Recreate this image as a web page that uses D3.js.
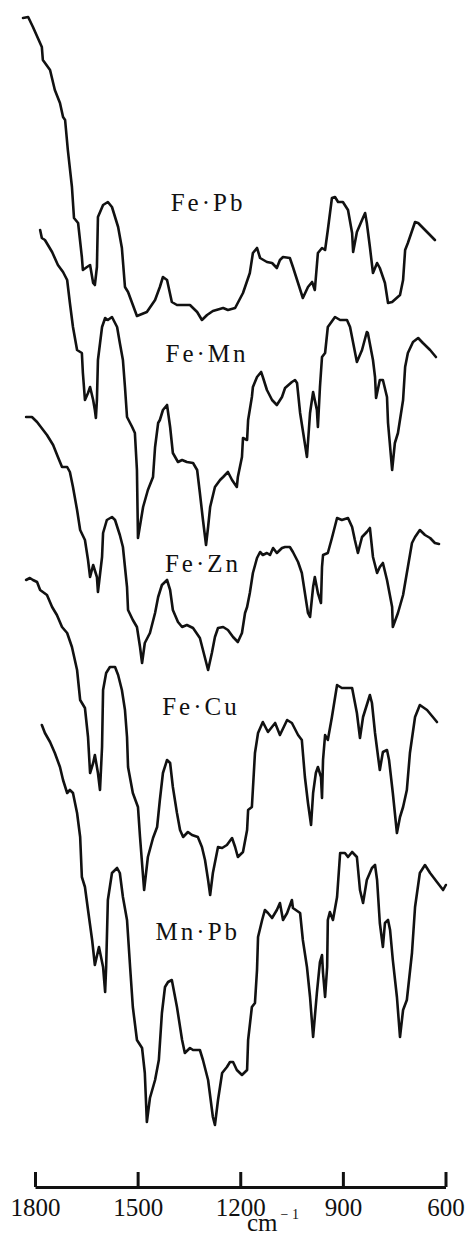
<!DOCTYPE html>
<html>
<head>
<meta charset="utf-8">
<script src="https://cdn.jsdelivr.net/npm/d3@7"></script>
<style>
  body { margin: 0; background: #fff; }
  svg { display: block; }
  text { font-family: "Liberation Serif", "DejaVu Serif", serif; fill: #111; }
</style>
</head>
<body>
<svg id="chart"></svg>
<script>
// wavenumber (cm-1), relative transmittance (arbitrary, stacked)
let fePb = [
  [1835,113.2],[1820,113.3],[1806,112.3],[1780,110.3],[1777,109.0],[1756,108.0],[1742,106.0],
  [1727,104.7],[1718,103.3],[1712,103.0],[1704,100.0],[1692,96.3],[1686,93.2],[1674,92.7],
  [1663,89.3],[1660,88.0],[1648,88.3],[1639,88.5],[1630,86.7],[1625,86.5],[1619,88.3],
  [1616,93.3],[1601,94.5],[1587,94.8],[1575,94.3],[1557,92.3],[1546,90.2],[1537,86.3],
  [1528,85.8],[1502,83.4],[1473,83.8],[1449,85.0],[1435,86.3],[1426,87.3],[1414,87.0],
  [1400,84.8],[1385,84.5],[1347,84.5],[1326,83.8],[1312,83.0],[1297,83.5],[1280,83.9],
  [1250,84.2],[1236,84.0],[1215,84.2],[1192,85.7],[1172,87.7],[1163,89.7],[1151,90.2],
  [1142,89.2],[1122,88.8],[1107,88.7],[1093,88.2],[1084,89.0],[1075,89.3],[1055,89.2],
  [1046,88.3],[1031,86.7],[1017,85.2],[1002,86.3],[990,86.8],[982,86.0],[973,89.7],
  [961,90.2],[952,90.0],[944,92.0],[932,95.2],[923,95.3],[914,94.8],[900,94.8],[885,94.0],
  [873,91.7],[870,89.8],[859,91.8],[844,93.0],[835,93.7],[830,92.7],[821,90.3],[812,87.7],
  [800,88.7],[792,88.2],[777,86.7],[768,84.7],[756,84.8],[733,85.5],[724,87.0],[718,90.0],
  [710,90.7],[689,92.8],[680,92.7],[654,91.8],[631,91.0]
];

let feMn = [
  [1785,92.0],[1780,91.2],[1771,91.0],[1750,89.8],[1733,88.5],[1718,87.8],[1706,87.0],
  [1698,84.7],[1689,82.3],[1677,80.0],[1663,79.7],[1660,77.7],[1654,75.0],[1645,75.7],
  [1639,76.3],[1630,75.0],[1625,74.0],[1622,73.2],[1619,75.0],[1616,79.0],[1604,82.3],
  [1595,83.2],[1587,83.0],[1575,83.3],[1560,82.3],[1552,80.7],[1543,79.0],[1537,76.3],
  [1531,73.3],[1516,72.3],[1508,71.7],[1502,68.0],[1499,61.2],[1484,64.3],[1470,66.0],
  [1455,67.3],[1449,70.3],[1440,72.7],[1435,73.0],[1426,74.0],[1414,74.5],[1405,72.3],
  [1397,69.7],[1382,68.8],[1370,69.0],[1356,68.8],[1338,68.7],[1326,68.0],[1318,65.7],
  [1309,63.0],[1300,60.5],[1294,62.3],[1288,64.3],[1274,66.3],[1259,67.0],[1250,67.3],
  [1236,67.8],[1224,67.0],[1210,66.3],[1207,67.3],[1195,69.3],[1192,71.2],[1180,71.0],
  [1177,73.0],[1166,75.3],[1163,76.3],[1151,77.3],[1139,77.8],[1134,77.3],[1122,76.0],
  [1107,75.0],[1093,74.5],[1078,75.3],[1069,76.2],[1049,76.8],[1040,77.0],[1034,76.7],
  [1025,73.7],[1005,69.3],[996,73.7],[987,75.8],[976,74.0],[973,72.3],[967,76.3],
  [961,79.3],[952,79.7],[944,82.3],[923,83.3],[908,83.0],[888,83.0],[879,82.3],[859,78.8],
  [844,80.0],[830,81.8],[827,81.7],[812,79.0],[806,77.3],[803,75.2],[792,77.0],[783,77.0],
  [771,75.3],[768,72.7],[756,68.0],[748,70.7],[739,71.7],[724,75.0],[718,78.3],[710,79.7],
  [695,80.8],[680,81.2],[666,80.7],[645,80.0],[628,79.3]
];

let feZn = [
  [1826,73.3],[1809,73.3],[1794,72.8],[1765,71.5],[1747,70.5],[1733,69.3],[1721,68.3],
  [1706,68.3],[1698,67.8],[1689,66.3],[1677,64.0],[1668,62.0],[1654,61.0],[1645,59.0],
  [1639,57.3],[1630,58.5],[1619,57.3],[1616,55.8],[1604,59.3],[1601,61.7],[1590,63.0],
  [1575,63.3],[1566,63.0],[1552,61.5],[1543,60.3],[1531,56.3],[1528,54.0],[1514,53.0],
  [1502,52.3],[1493,50.3],[1487,48.7],[1479,50.7],[1464,51.7],[1449,53.7],[1440,55.3],
  [1429,56.5],[1414,57.0],[1405,56.0],[1397,54.0],[1382,52.8],[1370,52.3],[1356,52.5],
  [1338,52.2],[1318,51.2],[1309,50.0],[1294,48.0],[1283,49.7],[1274,51.3],[1265,52.2],
  [1250,52.3],[1236,52.0],[1221,51.3],[1207,50.8],[1195,51.7],[1186,53.7],[1180,54.3],
  [1172,55.7],[1163,57.7],[1151,59.2],[1142,59.8],[1134,59.5],[1122,59.7],[1113,59.5],
  [1104,60.2],[1093,59.7],[1078,60.2],[1069,60.3],[1055,60.3],[1046,59.8],[1031,58.8],
  [1020,57.7],[1011,55.7],[1002,53.7],[996,53.3],[987,56.3],[982,57.3],[973,55.7],
  [964,54.7],[961,58.3],[958,59.5],[944,59.7],[932,61.2],[917,63.2],[903,63.0],[885,63.2],
  [873,62.3],[865,61.0],[856,59.7],[844,61.3],[830,61.8],[821,62.2],[812,59.3],[800,57.7],
  [792,58.3],[783,58.7],[771,57.0],[756,54.3],[754,52.3],[739,53.7],[724,55.5],[710,58.3],
  [698,60.7],[689,61.3],[675,62.0],[660,61.5],[645,61.2],[631,60.7],[619,60.6]
];

let feCu = [
  [1826,57.0],[1815,57.2],[1806,57.0],[1794,56.8],[1785,56.0],[1765,55.5],[1750,54.3],
  [1736,53.5],[1721,52.3],[1706,51.7],[1692,50.3],[1677,48.0],[1668,45.0],[1654,44.2],
  [1645,41.3],[1639,37.7],[1630,38.7],[1625,39.5],[1616,37.7],[1610,36.0],[1604,40.3],
  [1601,46.0],[1592,47.7],[1581,48.3],[1566,48.3],[1557,47.5],[1546,46.0],[1537,44.0],
  [1531,41.3],[1528,38.3],[1514,35.7],[1499,34.3],[1493,31.3],[1481,26.0],[1470,29.3],
  [1455,31.2],[1443,32.3],[1435,35.0],[1426,37.7],[1414,39.0],[1405,38.7],[1397,36.3],
  [1385,33.7],[1376,32.0],[1367,31.3],[1353,31.8],[1341,31.5],[1324,31.3],[1312,30.3],
  [1303,29.0],[1294,27.0],[1288,25.5],[1280,27.7],[1265,30.3],[1253,30.2],[1239,30.5],
  [1224,31.2],[1215,30.3],[1207,29.3],[1192,29.8],[1180,32.0],[1177,34.0],[1166,34.3],
  [1157,39.7],[1148,41.7],[1134,42.8],[1119,41.8],[1098,42.7],[1084,41.5],[1063,43.0],
  [1049,42.7],[1031,41.5],[1020,41.0],[1011,37.3],[1002,34.7],[993,32.5],[987,35.7],
  [979,37.7],[973,38.3],[964,37.3],[961,35.2],[958,39.0],[952,41.5],[944,41.0],[932,43.3],
  [917,46.5],[903,46.2],[885,46.2],[873,46.2],[859,43.7],[850,41.2],[841,43.3],[821,45.5],
  [815,44.7],[806,41.7],[797,39.3],[792,38.0],[783,39.8],[771,40.0],[765,39.0],[754,35.7],
  [742,31.7],[733,33.3],[724,34.3],[713,36.0],[704,39.7],[689,43.3],[675,44.5],[654,44.0],
  [637,43.3],[625,42.8]
];

let mnPb = [
  [1780,42.5],[1771,41.7],[1756,40.8],[1742,39.7],[1727,38.3],[1718,37.0],[1706,35.7],
  [1698,36.0],[1689,35.7],[1677,33.7],[1668,31.3],[1663,27.3],[1654,26.3],[1645,24.0],
  [1633,21.0],[1625,18.5],[1613,20.3],[1601,18.3],[1595,15.8],[1592,18.3],[1587,25.0],
  [1575,27.7],[1560,28.2],[1552,27.7],[1543,25.3],[1531,23.0],[1522,18.3],[1514,14.3],
  [1502,11.0],[1487,10.2],[1479,7.7],[1473,2.8],[1464,5.2],[1449,7.0],[1438,9.0],
  [1429,13.7],[1420,16.3],[1411,16.8],[1400,17.0],[1385,14.3],[1370,11.0],[1362,9.7],
  [1347,10.2],[1338,10.0],[1318,10.0],[1309,9.0],[1294,7.0],[1280,3.3],[1274,2.5],
  [1265,5.0],[1253,7.7],[1239,8.3],[1230,8.8],[1221,8.8],[1210,8.0],[1195,7.5],[1180,8.0],
  [1177,11.0],[1166,14.3],[1157,14.7],[1151,18.0],[1148,21.3],[1136,23.0],[1128,24.0],
  [1119,23.7],[1107,23.2],[1093,24.0],[1084,24.7],[1075,23.0],[1063,23.7],[1049,25.0],
  [1046,24.2],[1025,23.7],[1017,21.0],[1005,18.3],[996,15.3],[987,11.3],[976,15.7],
  [967,18.8],[961,19.5],[958,17.7],[952,15.3],[946,18.3],[944,23.0],[938,23.8],[929,23.0],
  [917,25.3],[908,29.7],[894,29.7],[885,29.3],[873,29.8],[859,29.3],[850,26.0],[841,24.7],
  [830,27.0],[815,28.2],[806,28.5],[800,27.0],[792,22.7],[783,20.3],[777,22.7],[768,23.0],
  [762,22.0],[754,19.0],[742,15.3],[733,11.3],[724,14.0],[713,15.0],[698,19.7],[689,24.3],
  [675,27.7],[660,28.5],[645,27.7],[625,26.8],[607,26.0],[599,26.5]
];

let seriesNames = ["Fe\u00b7Pb", "Fe\u00b7Mn", "Fe\u00b7Zn", "Fe\u00b7Cu", "Mn\u00b7Pb"];
let seriesData = [fePb, feMn, feZn, feCu, mnPb];
let tickValues = [1800, 1500, 1200, 900, 600];

let width = 466;
let height = 1242;

let svg = d3.select("#chart").attr("width", width).attr("height", height);

let xScale = d3.scaleLinear().domain([1800, 600]).range([35, 445.5]);
let yScale = d3.scaleLinear().domain([0, 114]).range([1150, 10]);

let line = d3.line()
  .x((d) => xScale(d[0]))
  .y((d) => yScale(d[1]));

svg.selectAll("path.spectrum")
  .data(seriesData)
  .enter()
  .append("path")
  .attr("class", "spectrum")
  .attr("d", line)
  .attr("fill", "none")
  .attr("stroke", "#111")
  .attr("stroke-width", 2.6)
  .attr("stroke-linejoin", "round")
  .attr("stroke-linecap", "round");

// label anchors: [wavenumber, value] of each name
let labelAt = [[1294, 93.9], [1297, 78.8], [1309, 57.8], [1315, 43.5], [1324, 21.0]];

svg.selectAll("text.name")
  .data(seriesNames)
  .enter()
  .append("text")
  .attr("class", "name")
  .attr("x", (d, i) => xScale(labelAt[i][0]))
  .attr("y", (d, i) => yScale(labelAt[i][1]))
  .attr("text-anchor", "middle")
  .attr("font-size", 25)
  .attr("letter-spacing", 3)
  .text((d) => d);

let xAxis = d3.axisBottom(xScale)
  .tickValues(tickValues)
  .tickFormat(d3.format("d"))
  .tickSizeInner(-15)
  .tickSizeOuter(0)
  .tickPadding(11);

let axisG = svg.append("g")
  .attr("id", "x-axis")
  .attr("transform", "translate(0,1187)")
  .call(xAxis);

axisG.select(".domain").attr("stroke", "#111").attr("stroke-width", 3);
axisG.selectAll(".tick line").attr("stroke", "#111").attr("stroke-width", 3);
axisG.selectAll(".tick text")
  .attr("font-size", 25)
  .attr("font-family", "Liberation Serif, DejaVu Serif, serif")
  .attr("fill", "#111");

let unit = svg.append("text")
  .attr("x", 247)
  .attr("y", 1231)
  .attr("font-size", 25);
unit.append("tspan").text("cm");
unit.append("tspan")
  .attr("font-size", 14)
  .attr("dx", 3)
  .attr("dy", -12)
  .text("\u2212 1");
</script>
</body>
</html>
